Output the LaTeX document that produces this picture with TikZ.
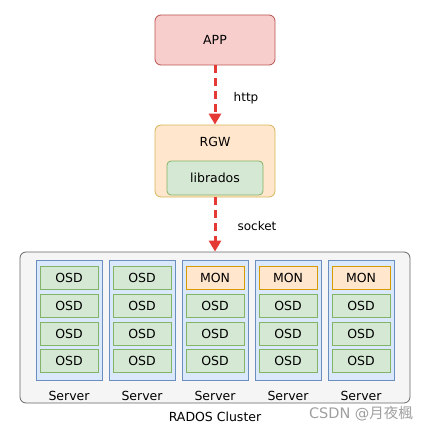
\documentclass[tikz,border=0pt]{standalone}
\usepackage{fontspec}
\setmainfont{DejaVu Sans}
\newfontfamily\cjkfont{Noto Sans CJK SC}
\usetikzlibrary{arrows.meta}
\definecolor{appfill}{HTML}{F8CECC}
\definecolor{appdraw}{HTML}{B85450}
\definecolor{orfill}{HTML}{FFE6CC}
\definecolor{yldraw}{HTML}{D6B656}
\definecolor{ordraw}{HTML}{D79B00}
\definecolor{gnfill}{HTML}{D5E8D4}
\definecolor{gndraw}{HTML}{82B366}
\definecolor{blfill}{HTML}{DAE8FC}
\definecolor{bldraw}{HTML}{6C8EBF}
\definecolor{gyfill}{HTML}{F5F5F5}
\definecolor{gydraw}{HTML}{666666}
\definecolor{arrowred}{HTML}{E53935}
\tikzset{
  box/.style={draw, line width=0.8pt, rounded corners=3pt, inner sep=0pt, font=\fontsize{12.5}{14}\selectfont},
  appbox/.style={box, fill=appfill, draw=appdraw, minimum width=120pt, minimum height=50pt, rounded corners=6pt},
  rgwbox/.style={box, fill=orfill, draw=yldraw, minimum width=120pt, minimum height=72pt, rounded corners=6pt},
  libbox/.style={box, fill=gnfill, draw=gndraw, minimum width=96pt, minimum height=34pt, rounded corners=4pt},
  clusterbox/.style={box, fill=gyfill, draw=gydraw, minimum width=390pt, minimum height=151pt, rounded corners=6pt},
  colbox/.style={box, fill=blfill, draw=bldraw, minimum width=66pt, minimum height=120pt, rounded corners=0pt},
  osdbox/.style={box, fill=gnfill, draw=gndraw, minimum width=58pt, minimum height=23pt, rounded corners=0pt},
  monbox/.style={box, fill=orfill, draw=ordraw, minimum width=58pt, minimum height=23pt, rounded corners=0pt},
  lbl/.style={font=\fontsize{12}{14}\selectfont, inner sep=0pt},
  flow/.style={draw=arrowred, line width=3pt, dash pattern=on 8pt off 5pt, -{Triangle[width=12pt,length=11pt]}, shorten >=0pt}
}
\begin{document}
\begin{tikzpicture}[x=1pt,y=-1pt]
\useasboundingbox (0,0) rectangle (432,433);
\node[appbox] (app) at (215,40) {APP};
\node[rgwbox] (rgw) at (215,161) {};
\node[lbl, font=\fontsize{12.5}{14}\selectfont] (rgwt) at (215,142) {RGW};
\node[libbox] (lib) at (215,178) {librados};
\node[clusterbox] (cluster) at (215,327.5) {};
\foreach \i/\x in {1/69,2/142,3/215,4/288,5/361}{
  \node[colbox] (col\i) at (\x,320) {};
  \node[lbl, font=\fontsize{12.5}{14}\selectfont] (srv\i) at (\x,396) {Server};
}
\foreach \i in {1,2}{
  \foreach \j/\y in {1/277.5,2/305.5,3/333.5,4/361}{
    \node[osdbox] (o\i\j) at (col\i |- 0,\y) {OSD};
  }
}
\foreach \i in {3,4,5}{
  \node[monbox] (o\i1) at (col\i |- 0,277.5) {MON};
  \foreach \j/\y in {2/305.5,3/333.5,4/361}{
    \node[osdbox] (o\i\j) at (col\i |- 0,\y) {OSD};
  }
}
\node[lbl, font=\fontsize{12.5}{14}\selectfont] (rados) at (215,417) {RADOS Cluster};
\node[lbl, text=gray!75, font=\fontsize{14.5}{16}\selectfont] (wm) at (361,414) {CSDN @\cjkfont 月夜楓};
\draw[flow] (app.south) -- (rgw.north);
\draw[flow] (rgw.south) -- (cluster.north);
\node[lbl] (http) at (246,98) {http};
\node[lbl] (sock) at (257,226) {socket};
\end{tikzpicture}
\end{document}
